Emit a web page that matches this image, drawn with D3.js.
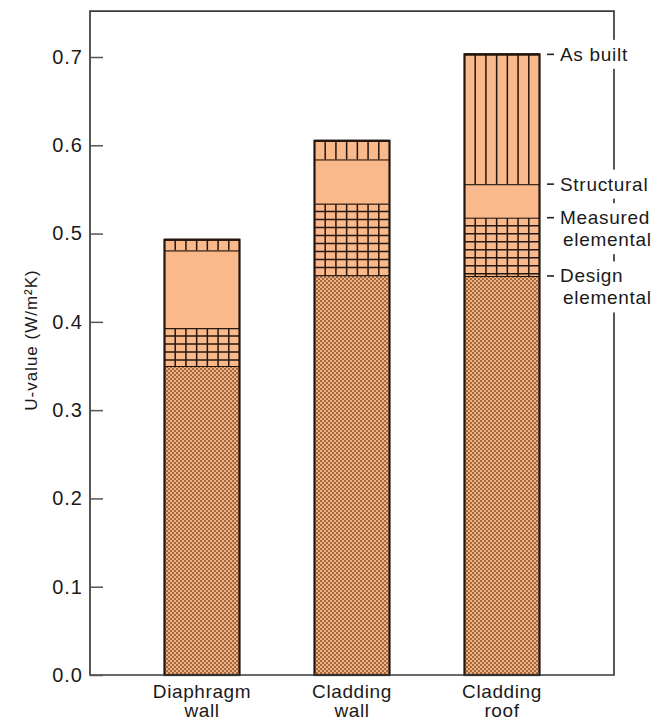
<!DOCTYPE html>
<html><head><meta charset="utf-8">
<script src="https://cdn.jsdelivr.net/npm/d3@7"></script>
<style>
body{margin:0;background:#fff}
text{font-family:"Liberation Sans",Arial,Helvetica,sans-serif;fill:#1a1a1a}
</style>
</head><body>
<svg id="c" width="662" height="723"></svg>
<script>
// ---- data ----
const categories = ["Diaphragm wall", "Cladding wall", "Cladding roof"];
const categoryLines = [["Diaphragm", "wall"], ["Cladding", "wall"], ["Cladding", "roof"]];
const layers = ["Design elemental", "Measured elemental", "Structural", "As built"];
const designElemental = [0.350, 0.453, 0.452];
const measuredElemental = [0.393, 0.534, 0.518];
const structural = [0.481, 0.584, 0.556];
const asBuilt = [0.493, 0.605, 0.703];
const yTicks = [0.0, 0.1, 0.2, 0.3, 0.4, 0.5, 0.6, 0.7];
const yTitle = "U-value (W/m²K)";
const labelLines = [["As built"], ["Structural"], ["Measured", "elemental"], ["Design", "elemental"]];
const labelValues = [asBuilt[2], structural[2], measuredElemental[2], designElemental[2]];

// ---- setup ----
const svg = d3.select("#c");
const frameTop = 0.752;
const y = d3.scaleLinear().domain([0, 0.7]).range([675, 57]);
const x = d3.scaleBand().domain(categories).range([127, 577]).paddingInner(0.5).paddingOuter(0.25);
const left = 90, right = 614;
const light = "#f9b98b";
const ink = "#24160f";
const fontSize = 19;

const defs = svg.append("defs");
const pat = defs.append("pattern").attr("id", "dots").attr("width", 4).attr("height", 4)
  .attr("patternUnits", "userSpaceOnUse");
pat.append("rect").attr("width", 4).attr("height", 4).attr("fill", "#ebb282");
pat.append("rect").attr("width", 2).attr("height", 2).attr("fill", "#a8683f");
pat.append("rect").attr("x", 2).attr("y", 2).attr("width", 2).attr("height", 2).attr("fill", "#a8683f");

// stacked segments
const stacks = categories.map((c, i) => {
  const tops = [designElemental[i], measuredElemental[i], structural[i], asBuilt[i]];
  return tops.map((t, j) => ({cat: c, layer: layers[j], y0: j === 0 ? 0 : tops[j - 1], y1: t}));
});

const g = svg.append("g");
stacks.forEach(segs => {
  segs.forEach(s => {
    const x0 = x(s.cat), w = x.bandwidth();
    const top = y(s.y1), bot = y(s.y0);
    const fill = s.layer === "Design elemental" ? "url(#dots)" : light;
    g.append("rect").attr("x", x0).attr("y", top).attr("width", w).attr("height", bot - top)
      .attr("fill", fill);
    if (s.layer === "Measured elemental" || s.layer === "As built") {
      d3.range(1, 7).forEach(k => {
        g.append("line").attr("x1", x0 + k * w / 7).attr("x2", x0 + k * w / 7)
          .attr("y1", top).attr("y2", bot).attr("stroke", ink).attr("stroke-width", 1.5);
      });
    }
    if (s.layer === "Measured elemental") {
      d3.range(top + 8, bot - 2, 8).forEach(yy => {
        g.append("line").attr("x1", x0).attr("x2", x0 + w).attr("y1", yy).attr("y2", yy)
          .attr("stroke", ink).attr("stroke-width", 1.5);
      });
    }
    g.append("line").attr("x1", x0).attr("x2", x0 + w).attr("y1", top).attr("y2", top)
      .attr("stroke", ink).attr("stroke-width", 2.2);
  });
  const s0 = segs[0], sl = segs[segs.length - 1];
  g.append("rect").attr("x", x(s0.cat)).attr("y", y(sl.y1)).attr("width", x.bandwidth())
    .attr("height", y(0) - y(sl.y1)).attr("fill", "none").attr("stroke", ink).attr("stroke-width", 2.2);
});

// frame
const frame = svg.append("g").attr("stroke", "#3a3a3a").attr("stroke-width", 1.7).attr("fill", "none");
frame.append("path").attr("d", `M${left},${y(frameTop)}H${right}V${y(0)}H${left}Z`);

// y axis
const axis = d3.axisLeft(y).tickValues(yTicks).tickFormat(d3.format(".1f"))
  .tickSizeInner(-13).tickSizeOuter(0).tickPadding(7);
const ag = svg.append("g").attr("transform", `translate(${left},0)`).call(axis);
ag.select(".domain").remove();
ag.selectAll(".tick line").attr("stroke", "#555").attr("stroke-width", 1.5);
ag.selectAll(".tick text").attr("font-size", 20).attr("letter-spacing", "1px")
  .attr("font-family", "'Liberation Sans',Arial,sans-serif").attr("fill", "#1a1a1a");

svg.append("text").attr("transform", "translate(37,340) rotate(-90)")
  .attr("text-anchor", "middle").attr("font-size", 17).attr("letter-spacing", "1px").text(yTitle);

// x labels
categories.forEach((c, i) => {
  const cx = x(c) + x.bandwidth() / 2;
  const t = svg.append("text").attr("x", cx).attr("y", 698)
    .attr("text-anchor", "middle").attr("font-size", fontSize).attr("letter-spacing", "0.6px");
  categoryLines[i].forEach((ln, k) => t.append("tspan").attr("x", cx)
    .attr("dy", k === 0 ? 0 : 19).text(ln));
});

// right labels
labelLines.forEach((lines, i) => {
  const yy = y(labelValues[i]);
  const lg = svg.append("g");
  const mask = lg.append("rect").attr("fill", "#fff");
  lg.append("line").attr("x1", 547).attr("x2", 554).attr("y1", yy).attr("y2", yy)
    .attr("stroke", "#222").attr("stroke-width", 1.6);
  const t = lg.append("text").attr("font-size", fontSize).attr("letter-spacing", "0.7px");
  lines.forEach((ln, k) => t.append("tspan").attr("x", k === 0 ? 560 : 563)
    .attr("y", yy + 6.5 + k * 22).text(ln));
  const bb = t.node().getBBox();
  mask.attr("x", 556).attr("y", bb.y - 4).attr("width", 106).attr("height", bb.height + 8);
});
</script>
</body></html>
